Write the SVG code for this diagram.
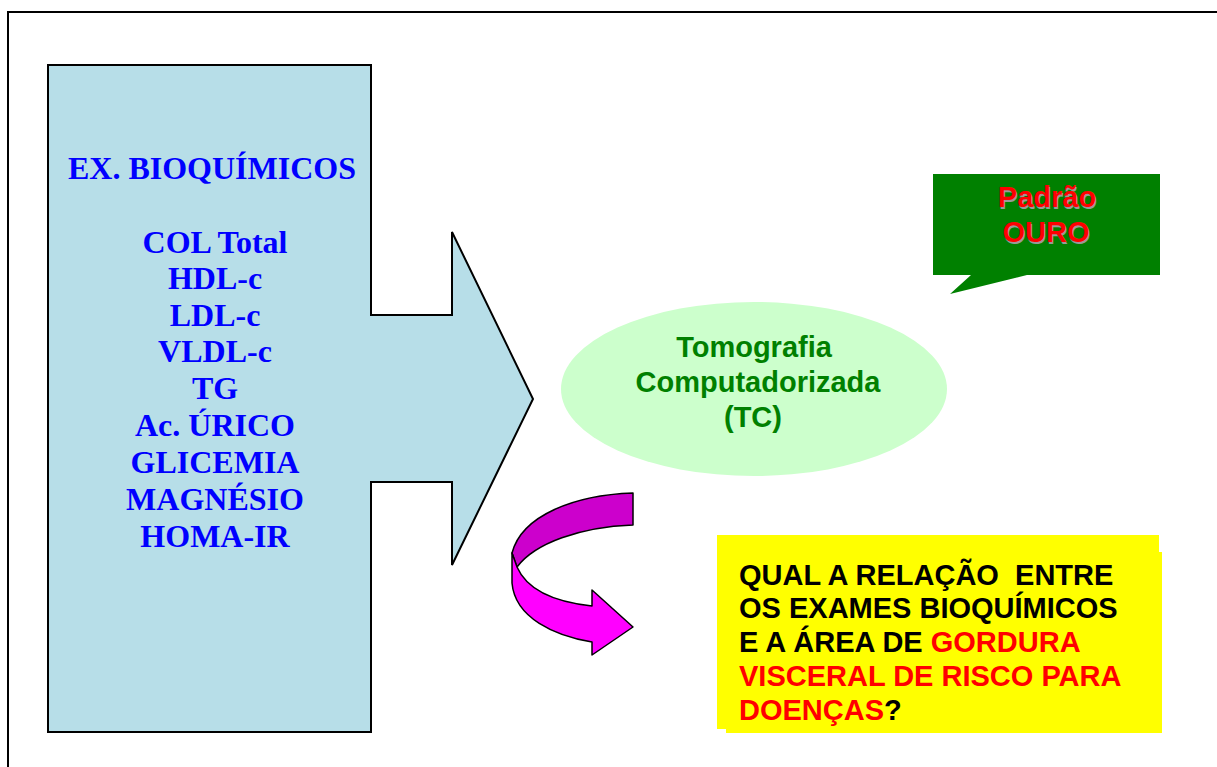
<svg xmlns="http://www.w3.org/2000/svg" width="1217" height="767" viewBox="0 0 1217 767">
<style>
.bio{font-family:"Liberation Serif","Times New Roman",serif;font-weight:bold;font-size:32px;fill:#0000FF;text-anchor:middle}
.sans{font-family:"Liberation Sans",Arial,sans-serif;font-weight:bold;font-size:29px}
.tc{fill:#008000;text-anchor:middle}
.gold{fill:#FF0000;text-anchor:middle}
.shadow{fill:#999999;text-anchor:middle}
.q{fill:#000000;white-space:pre}
.red{fill:#FF0000}
</style>
<rect x="8" y="12" width="1230" height="780" fill="#FFFFFF" stroke="#000000" stroke-width="2"/>
<g id="bioquimicos">
<polygon points="48,65 371,65 371,315 452,315 452,232 533,399 452,565 452,482 371,482 371,732 48,732" fill="#B7DEE8" stroke="#000000" stroke-width="2" stroke-linejoin="miter"/>
<text class="bio" x="212" y="179">EX. BIOQUÍMICOS</text>
<text class="bio" x="215" y="253">COL Total</text>
<text class="bio" x="215" y="289">HDL-c</text>
<text class="bio" x="215" y="326">LDL-c</text>
<text class="bio" x="215" y="362">VLDL-c</text>
<text class="bio" x="215" y="399">TG</text>
<text class="bio" x="215" y="436">Ac. ÚRICO</text>
<text class="bio" x="215" y="473">GLICEMIA</text>
<text class="bio" x="215" y="510">MAGNÉSIO</text>
<text class="bio" x="215" y="547">HOMA-IR</text>
</g>
<g id="tc">
<ellipse cx="754" cy="389" rx="193" ry="87" fill="#CCFFCC"/>
<text class="sans tc" x="754" y="357">Tomografia</text>
<text class="sans tc" x="758" y="392">Computadorizada</text>
<text class="sans tc" x="753" y="427">(TC)</text>
</g>
<g id="padrao-ouro">
<polygon points="933,174 1160,174 1160,275 1027,275 950,294 971,275 933,275" fill="#008000"/>
<text class="sans shadow" x="1048" y="209">Padrão</text>
<text class="sans shadow" x="1047" y="244">OURO</text>
<text class="sans gold" x="1047" y="207">Padrão</text>
<text class="sans gold" x="1046" y="242">OURO</text>
</g>
<g id="pergunta">
<rect x="717" y="535" width="442" height="194" fill="#FFFF00"/>
<rect x="726" y="552" width="436" height="181" fill="#FFFF00"/>
<text class="sans q" x="739" y="585">QUAL A RELAÇÃO  ENTRE</text>
<text class="sans q" x="739" y="618">OS EXAMES BIOQUÍMICOS</text>
<text class="sans q" x="739" y="652">E A ÁREA DE <tspan class="red">GORDURA</tspan></text>
<text class="sans q red" x="739" y="686">VISCERAL DE RISCO PARA</text>
<text class="sans q" x="739" y="720"><tspan class="red">DOENÇAS</tspan>?</text>
</g>
<g id="connectors">
<path d="M633,493 C575,495 522,515 512,553 L517,567 C535,543 580,527 633,525 Z" fill="#CC00CC" stroke="#000000" stroke-width="1.5" stroke-linejoin="round"/>
<path d="M512,553 L512,583 C515,618 555,636 592,642 L592,655 L633,627 L592,590 L592,606 C555,602 527,590 517,567 Z" fill="#FF00FF" stroke="#000000" stroke-width="1.5" stroke-linejoin="round"/>
</g>
</svg>
